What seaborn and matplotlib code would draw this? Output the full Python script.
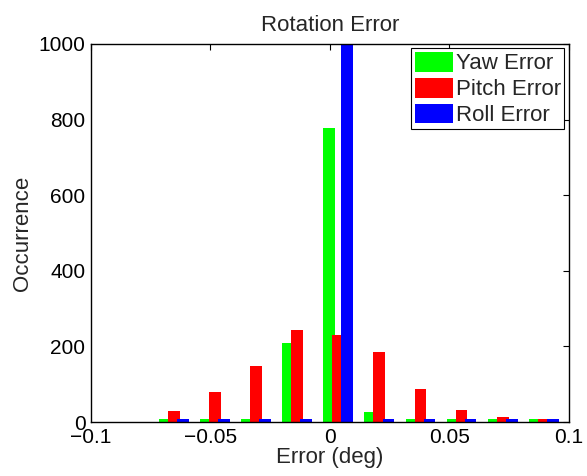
import numpy as np
import pandas as pd
import seaborn as sns
import matplotlib
matplotlib.use("Agg")
import matplotlib.pyplot as plt

# bin centres (deg) and occurrence counts
centers = [-0.0653, -0.0481, -0.0309, -0.0137, 0.0035, 0.0207, 0.0379, 0.0551, 0.0723, 0.0895]
yaw_err = [7, 7, 7, 210, 779, 26, 7, 7, 7, 7]
pitch_err = [29, 79, 148, 243, 230, 186, 87, 33, 13, 8]
roll_err = [7, 7, 7, 7, 1020, 7, 7, 7, 7, 7]
series = ["Yaw Error", "Pitch Error", "Roll Error"]
colors = ["#00ff00", "#ff0000", "#0000ff"]

df = pd.concat([
    pd.DataFrame({"err": centers, "count": vals, "series": name})
    for name, vals in zip(series, [yaw_err, pitch_err, roll_err])
])

sns.set_style("white")
plt.rcParams["font.family"] = ["Liberation Sans", "DejaVu Sans"]
plt.rcParams["axes.unicode_minus"] = True

fig = plt.figure(figsize=(5.87, 4.76), dpi=100)
ax = fig.add_axes([0.155, 0.1134, 0.814, 0.7942])

sns.barplot(data=df, x="err", y="count", hue="series", hue_order=series,
            palette=colors, native_scale=True, width=0.66, linewidth=0,
            saturation=1, errorbar=None, ax=ax)

# MATLAB-style bars overlap a bit within a group
for p in ax.patches:
    c = p.get_x() + p.get_width() / 2
    w = p.get_width() * 1.3
    p.set_x(c - w / 2)
    p.set_width(w)

ax.set_xlim(-0.1, 0.1)
ax.set_ylim(0, 1000)
ax.set_xticks([-0.1, -0.05, 0, 0.05, 0.1])
ax.set_xticklabels(["\u22120.1", "\u22120.05", "0", "0.05", "0.1"])
ax.set_yticks(range(0, 1001, 200))
ax.tick_params(direction="in", top=True, right=True, length=4, width=0.8,
               labelsize=15, colors="black", pad=4)
for s in ax.spines.values():
    s.set_color("black")
    s.set_linewidth(1.0)

ax.set_title("Rotation Error", fontsize=16, pad=9)
ax.set_xlabel("Error (deg)", fontsize=16, labelpad=0)
ax.set_ylabel("Occurrence", fontsize=16, labelpad=4)

handles, labels = ax.get_legend_handles_labels()
leg = ax.legend(handles, labels, loc="upper right", fontsize=16, frameon=True,
                fancybox=False, edgecolor="black", framealpha=1,
                handlelength=1.7, handleheight=1.0, handletextpad=0.15,
                labelspacing=0.15, borderpad=0.15, borderaxespad=0.2)
leg.get_frame().set_linewidth(0.8)

fig.savefig("out.png", dpi=100)
